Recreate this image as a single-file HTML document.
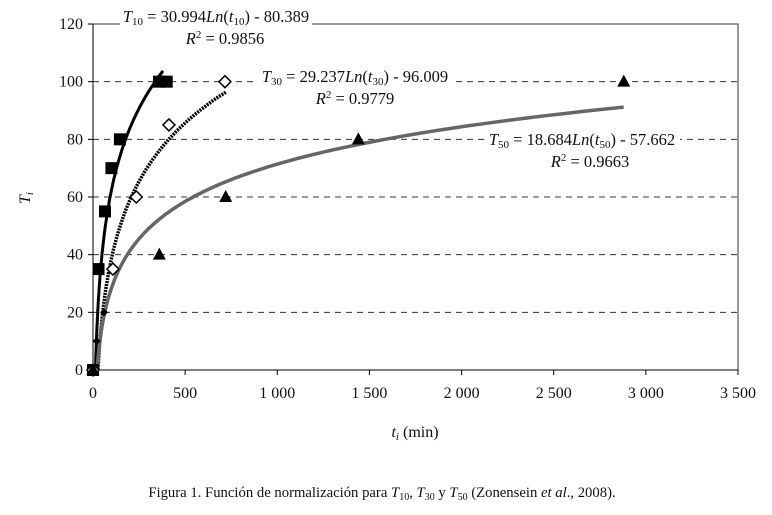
<!DOCTYPE html>
<html><head><meta charset="utf-8"><style>
body{margin:0;background:#fff;width:772px;height:510px;overflow:hidden}
text{font-family:"Liberation Serif",serif;fill:#111}
</style></head><body>
<svg width="772" height="510">
<g id="axes"></g><g id="marks"></g>
<g>
<rect x="120" y="8" width="192" height="20" fill="#fff"/>
<text x="216" y="22" font-size="16.5" text-anchor="middle"><tspan font-style="italic">T</tspan><tspan font-size="11" dy="3">10</tspan><tspan dy="-3"> = 30.994</tspan><tspan font-style="italic">Ln</tspan>(<tspan font-style="italic">t</tspan><tspan font-size="11" dy="3">10</tspan><tspan dy="-3">) - 80.389</tspan></text>
<text x="225" y="44" font-size="16.5" text-anchor="middle"><tspan font-style="italic">R</tspan><tspan font-size="11" dy="-6">2</tspan><tspan dy="6"> = 0.9856</tspan></text></g>
<g>
<rect x="258" y="66" width="196" height="20" fill="#fff"/>
<text x="355" y="82" font-size="16.5" text-anchor="middle"><tspan font-style="italic">T</tspan><tspan font-size="11" dy="3">30</tspan><tspan dy="-3"> = 29.237</tspan><tspan font-style="italic">Ln</tspan>(<tspan font-style="italic">t</tspan><tspan font-size="11" dy="3">30</tspan><tspan dy="-3">) - 96.009</tspan></text>
<text x="355" y="104" font-size="16.5" text-anchor="middle"><tspan font-style="italic">R</tspan><tspan font-size="11" dy="-6">2</tspan><tspan dy="6"> = 0.9779</tspan></text></g>
<g>
<rect x="484" y="129" width="196" height="20" fill="#fff"/>
<text x="582" y="145" font-size="16.5" text-anchor="middle"><tspan font-style="italic">T</tspan><tspan font-size="11" dy="3">50</tspan><tspan dy="-3"> = 18.684</tspan><tspan font-style="italic">Ln</tspan>(<tspan font-style="italic">t</tspan><tspan font-size="11" dy="3">50</tspan><tspan dy="-3">) - 57.662</tspan></text>
<text x="590" y="167" font-size="16.5" text-anchor="middle"><tspan font-style="italic">R</tspan><tspan font-size="11" dy="-6">2</tspan><tspan dy="6"> = 0.9663</tspan></text></g>
<text x="30" y="198" font-size="16" font-style="italic" transform="rotate(-90 30 198)" text-anchor="middle">T<tspan font-size="11" dy="3">i</tspan></text>
<text x="415" y="437" font-size="16" text-anchor="middle"><tspan font-style="italic">t</tspan><tspan font-size="11" font-style="italic" dy="3">i</tspan><tspan dy="-3"> (min)</tspan></text>
<text x="382" y="497" font-size="14.7" text-anchor="middle">Figura 1. Función de normalización para <tspan font-style="italic">T</tspan><tspan font-size="10" dy="3">10</tspan><tspan dy="-3">, </tspan><tspan font-style="italic">T</tspan><tspan font-size="10" dy="3">30</tspan><tspan dy="-3"> y </tspan><tspan font-style="italic">T</tspan><tspan font-size="10" dy="3">50</tspan><tspan dy="-3"> (Zonensein </tspan><tspan font-style="italic">et al</tspan>., 2008).</text>
</svg>
<script>
const xTicks=[0,500,1000,1500,2000,2500,3000,3500];
const xTickLabels=["0","500","1 000","1 500","2 000","2 500","3 000","3 500"];
const yTicks=[0,20,40,60,80,100,120];
const t10Times=[0,30,65,100,146,358,400];
const t10Values=[0,35,55,70,80,100,100];
const t30Times=[0,108,235,412,716];
const t30Values=[0,35,60,85,100];
const t30SmallTimes=[20,60];
const t30SmallValues=[10,20];
const t50Times=[0,360,720,1440,2880];
const t50Values=[0,40,60,80,100];
const fitA=[30.994,29.237,18.684];
const fitB=[-80.389,-96.009,-57.662];
const fitEnd=[380,720,2880];
const NS="http://www.w3.org/2000/svg";
const X=v=>93+v*(738-93)/3500, Y=v=>370-v*(370-24)/120;
const ax=document.getElementById('axes'), mk=document.getElementById('marks');
function mkEl(t,a,p){const e=document.createElementNS(NS,t);for(const k in a)e.setAttribute(k,a[k]);p.appendChild(e);return e;}
const border=mkEl('rect',{x:93,y:24,width:645,height:346,fill:'none',stroke:'#333','stroke-width':1},ax);


yTicks.forEach(v=>{
 if(v>0&&v<120){const g=mkEl('line',{x1:93,x2:738,y1:Y(v),y2:Y(v),stroke:'#333','stroke-dasharray':'6 5','stroke-width':1},ax);
 
 }
 mkEl('line',{x1:88,x2:93,y1:Y(v),y2:Y(v),stroke:'#000'},ax);
 const t=mkEl('text',{x:83,y:Y(v)+5,'font-size':16,'text-anchor':'end'},ax);t.textContent=v;
 
 
});
mkEl('line',{x1:93,x2:93,y1:24,y2:370,stroke:'#000'},ax);
mkEl('line',{x1:93,x2:738,y1:370,y2:370,stroke:'#000'},ax);
xTicks.forEach((v,i)=>{
 mkEl('line',{x1:X(v),x2:X(v),y1:370,y2:375,stroke:'#000'},ax);
 const t=mkEl('text',{x:X(v),y:398,'font-size':16,'text-anchor':'middle'},ax);t.textContent=xTickLabels[i];
 
 
});
const styles=[{c:'#000',w:3,d:''},{c:'#000',w:3.5,d:'2 1'},{c:'#666',w:3.5,d:''}];
for(let s=0;s<3;s++){
 let pts=[];
 for(let i=0;i<=200;i++){const t=Math.exp(i/200*Math.log(fitEnd[s]));const y=fitA[s]*Math.log(t)+fitB[s];if(y>=0)pts.push(X(t).toFixed(1)+','+Y(y).toFixed(1));}
 const p=mkEl('polyline',{points:pts.join(' '),fill:'none',stroke:styles[s].c,'stroke-width':styles[s].w,'stroke-dasharray':styles[s].d},mk);
 
 
}
t10Times.forEach((t,i)=>{const r=mkEl('rect',{x:X(t)-6,y:Y(t10Values[i])-6,width:12,height:12,fill:'#000'},mk);
 
 });
t30Times.forEach((t,i)=>{const cx=X(t),cy=Y(t30Values[i]);
 const r=mkEl('polygon',{points:`${cx},${cy-6} ${cx+6},${cy} ${cx},${cy+6} ${cx-6},${cy}`,fill:'#fff',stroke:'#000','stroke-width':1.5},mk);
 
 });
t30SmallTimes.forEach((t,i)=>{const cx=X(t),cy=Y(t30SmallValues[i]);
 const r=mkEl('polygon',{points:`${cx},${cy-4} ${cx+4},${cy} ${cx},${cy+4} ${cx-4},${cy}`,fill:'#000'},mk);
 
 });
t50Times.forEach((t,i)=>{const cx=X(t),cy=Y(t50Values[i]);
 const r=mkEl('polygon',{points:`${cx},${cy-7} ${cx+6.5},${cy+5} ${cx-6.5},${cy+5}`,fill:'#000'},mk);
 
 });
</script>
</body></html>
